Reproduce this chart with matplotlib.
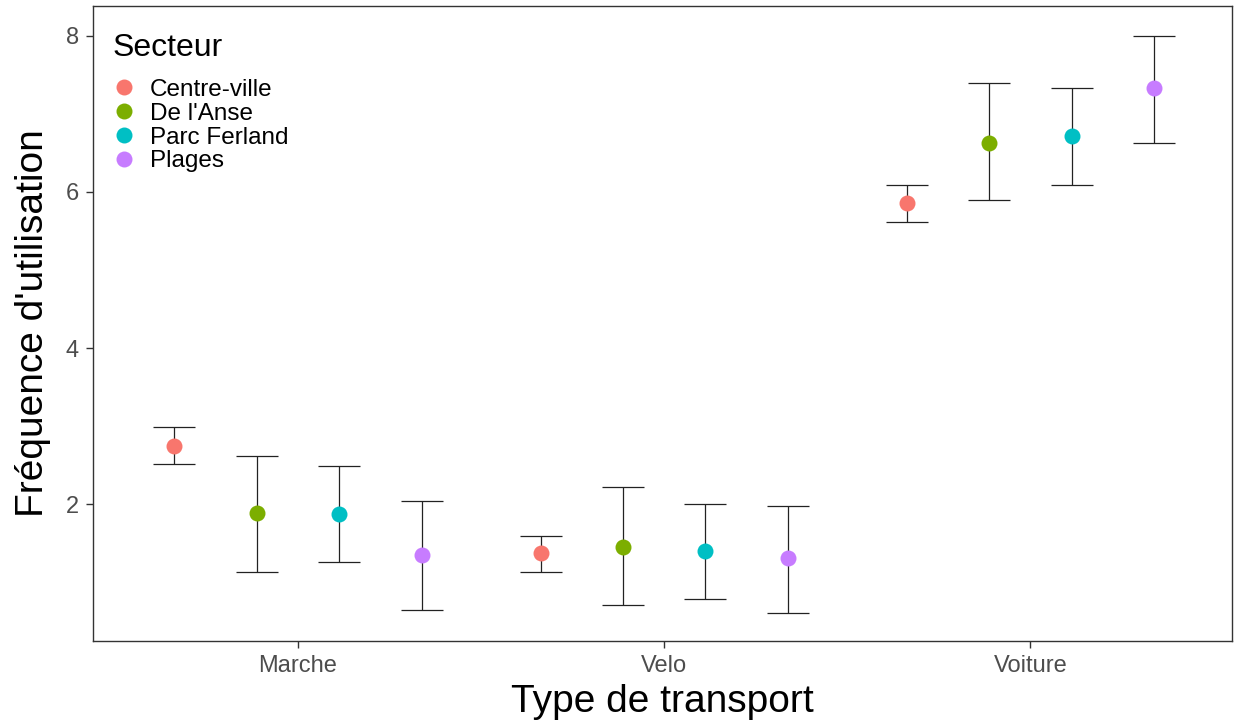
import matplotlib.pyplot as plt
import numpy as np

plt.rcParams['font.family'] = ['Liberation Sans', 'DejaVu Sans']

transports = ["Marche", "Velo", "Voiture"]
secteurs = ["Centre-ville", "De l'Anse", "Parc Ferland", "Plages"]
colors = ["#F8766D", "#7CAE00", "#00BFC4", "#C77CFF"]

# mean, lower, upper per secteur (order: Marche, Velo, Voiture)
moyenne = {
    "Centre-ville": [2.75, 1.38, 5.86],
    "De l'Anse": [1.89, 1.45, 6.63],
    "Parc Ferland": [1.88, 1.40, 6.71],
    "Plages": [1.35, 1.31, 7.33],
}
bas = {
    "Centre-ville": [2.52, 1.13, 5.62],
    "De l'Anse": [1.13, 0.71, 5.89],
    "Parc Ferland": [1.26, 0.79, 6.09],
    "Plages": [0.65, 0.61, 6.62],
}
haut = {
    "Centre-ville": [2.99, 1.59, 6.09],
    "De l'Anse": [2.62, 2.22, 7.39],
    "Parc Ferland": [2.49, 2.00, 7.33],
    "Plages": [2.04, 1.98, 8.00],
}

fig = plt.figure(figsize=(12.43, 7.23), dpi=100)
ax = fig.add_axes([0.0748, 0.1134, 0.9162, 0.8783])

x = np.arange(1, len(transports) + 1)
dodge = 0.225
for i, s in enumerate(secteurs):
    xs = x + (i - 1.5) * dodge
    m = np.array(moyenne[s])
    lo = np.array(bas[s])
    hi = np.array(haut[s])
    ax.errorbar(xs, m, yerr=[m - lo, hi - m], fmt='none', ecolor='#222222',
                elinewidth=0.9, capsize=14.8, capthick=0.9, zorder=2)
    ax.plot(xs, m, 'o', color=colors[i], markersize=11.5, label=s, zorder=3,
            markeredgewidth=0)

ax.set_xlim(0.44, 3.55)
ax.set_ylim(0.25, 8.38)
ax.set_xticks(x)
ax.set_xticklabels(transports)
ax.set_yticks([2, 4, 6, 8])
ax.tick_params(axis='both', labelsize=17, colors='#333333', length=5, width=1,
               labelcolor='#4d4d4d', pad=5)
for sp in ax.spines.values():
    sp.set_color('#333333')
    sp.set_linewidth(1)

ax.set_xlabel("Type de transport", fontsize=28, labelpad=5)
ax.set_ylabel("Fréquence d'utilisation", fontsize=28, labelpad=11)

leg = ax.legend(title="Secteur", loc='upper left', frameon=False, fontsize=17.5,
                title_fontsize=23, handletextpad=0.55, labelspacing=0.08,
                handlelength=1.0, borderaxespad=0, borderpad=0.3,
                bbox_to_anchor=(0.0105, 0.9685), markerscale=1.0)
leg._legend_box.align = "left"
leg._legend_box.sep = 11

fig.savefig("out.png", dpi=100)
